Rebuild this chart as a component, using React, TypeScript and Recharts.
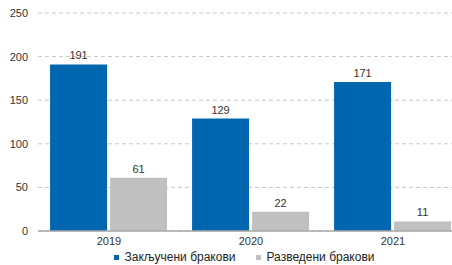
import { BarChart, Bar, XAxis, YAxis, CartesianGrid, Legend, LabelList } from "recharts";

const years = ["2019", "2020", "2021"];
const concluded = [191, 129, 171];
const divorced = [61, 22, 11];
const yTicks = [0, 50, 100, 150, 200, 250];

const BLUE = "#0066b0";
const GREY = "#c0c0c0";
const FONT = "'Liberation Sans', Arial, sans-serif";

const data = years.map((y, i) => ({ year: y, concluded: concluded[i], divorced: divorced[i] }));

const legendItems = [
  { label: "Закључени бракови", color: BLUE },
  { label: "Разведени бракови", color: GREY },
];

/** Small square markers, centred under the plot. */
function ChartLegend() {
  return (
    <div style={{ display: "flex", justifyContent: "center", gap: 20, paddingLeft: 24, paddingTop: 3, fontSize: 12, color: "#222", fontFamily: FONT }}>
      {legendItems.map((it) => (
        <div key={it.label} style={{ display: "flex", alignItems: "center" }}>
          <span style={{ width: 5, height: 5, background: it.color, marginRight: 6, display: "inline-block" }} />
          {it.label}
        </div>
      ))}
    </div>
  );
}

export default function App() {
  return (
    <div style={{ position: "fixed", left: 0, top: 0, width: 452, height: 265, overflow: "hidden", background: "#fff" }}>
      <BarChart
        width={470}
        height={265}
        data={data}
        margin={{ top: 13, right: 6, left: 0, bottom: 0 }}
        barCategoryGap="8.5%"
        barGap={3}
        style={{ fontFamily: FONT }}
      >
        <CartesianGrid vertical={false} strokeDasharray="4 3" stroke="#c8c8c8" />
        <XAxis
          dataKey="year"
          tickLine={false}
          tickMargin={0}
          height={16}
          stroke="#a8a8a8"
          strokeWidth={1.5}
          tick={{ fontSize: 11, fill: "#333" }}
        />
        <YAxis
          width={38}
          domain={[0, 250]}
          ticks={yTicks}
          axisLine={false}
          tickLine={false}
          tickMargin={4}
          tick={{ fontSize: 11, fill: "#333" }}
        />
        <Legend verticalAlign="bottom" height={18} content={<ChartLegend />} />
        <Bar dataKey="concluded" fill={BLUE} isAnimationActive={false}>
          <LabelList dataKey="concluded" position="top" fontSize={11} fill="#333" />
        </Bar>
        <Bar dataKey="divorced" fill={GREY} isAnimationActive={false}>
          <LabelList dataKey="divorced" position="top" fontSize={11} fill="#333" />
        </Bar>
      </BarChart>
    </div>
  );
}
